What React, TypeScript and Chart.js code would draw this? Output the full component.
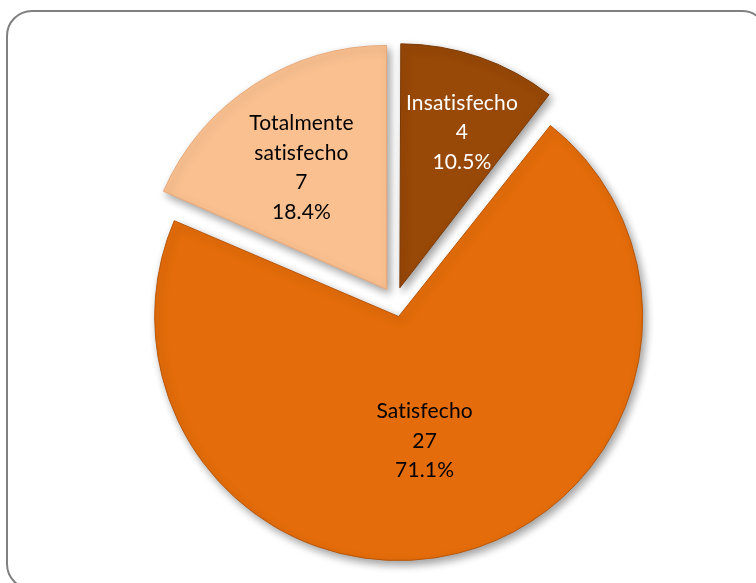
import React, { useEffect, useRef } from "react";
import { Chart, registerables } from "chart.js";

Chart.register(...registerables);

const categories = ["Insatisfecho", "Satisfecho", "Totalmente satisfecho"];
const labelLines = [["Insatisfecho"], ["Satisfecho"], ["Totalmente", "satisfecho"]];
const counts = [4, 27, 7];
const percents = ["10.5%", "71.1%", "18.4%"];
const colors = ["#984807", "#E46C0A", "#FAC090"];
const textColors = ["#FFFFFF", "#000000", "#000000"];

const PIE_RADIUS = 244;
const EXPLODE = 60; // chart.js arc offset (translation = offset / 4)
const LABEL_RATIO = [0.685, 0.52, 0.61];
const LABEL_ANGLE = [21.8, 168.2, 325];

const equalRadius = {
  id: "equalRadius",
  beforeDatasetsDraw(chart: any) {
    const meta = chart.getDatasetMeta(0);
    const base = meta.controller.outerRadius;
    meta.data.forEach((arc: any) => {
      const off = ((arc.options && arc.options.offset) || 0) / 4;
      const circ = arc.endAngle - arc.startAngle;
      const fix = 1 - Math.sin(Math.min(Math.PI, circ));
      arc.outerRadius = base - off * fix;
    });
  },
};

const shadow = {
  id: "shadow",
  beforeDatasetsDraw(chart: any) {
    const ctx = chart.ctx;
    ctx.save();
    ctx.shadowColor = "rgba(0,0,0,0.38)";
    ctx.shadowBlur = 8;
    ctx.shadowOffsetX = 3;
    ctx.shadowOffsetY = 4;
  },
  afterDatasetsDraw(chart: any) {
    chart.ctx.restore();
  },
};

const sliceLabels = {
  id: "sliceLabels",
  afterDatasetsDraw(chart: any) {
    const ctx = chart.ctx;
    const meta = chart.getDatasetMeta(0);
    const R = meta.controller.outerRadius;
    ctx.save();
    ctx.shadowColor = "transparent";
    ctx.font = "21px Lato";
    try {
      (ctx as any).letterSpacing = "0.15px";
    } catch (e) {}
    ctx.textAlign = "center";
    ctx.textBaseline = "middle";
    meta.data.forEach((arc: any, i: number) => {
      const mid = (arc.startAngle + arc.endAngle) / 2;
      const off = ((arc.options && arc.options.offset) || 0) / 4;
      const ax = arc.x + Math.cos(mid) * off;
      const ay = arc.y + Math.sin(mid) * off;
      const a = (LABEL_ANGLE[i] * Math.PI) / 180;
      const r = LABEL_RATIO[i] * R;
      const x = ax + Math.sin(a) * r;
      const y = ay - Math.cos(a) * r;
      const lines = [...labelLines[i], String(counts[i]), percents[i]];
      const lh = 29.5;
      ctx.fillStyle = textColors[i];
      lines.forEach((t, k) => {
        ctx.fillText(t, x, y + (k - (lines.length - 1) / 2) * lh);
      });
    });
    ctx.restore();
  },
};

export default function App() {
  const ref = useRef<HTMLCanvasElement | null>(null);

  useEffect(() => {
    if (!ref.current) return;
    const chart = new Chart(ref.current, {
      type: "pie",
      data: {
        labels: categories,
        datasets: [
          {
            data: counts,
            backgroundColor: colors,
            borderColor: ["#7a3a06", "#b85608", "#e8a878"],
            borderWidth: 1,
            offset: EXPLODE,
          },
        ],
      },
      options: {
        responsive: false,
        maintainAspectRatio: false,
        animation: false,
        radius: PIE_RADIUS,
        layout: { padding: { left: 34, right: 0, top: 21, bottom: 0 } },
        plugins: {
          legend: { display: false },
          tooltip: { enabled: false },
        },
        events: [],
      },
      plugins: [equalRadius, shadow, sliceLabels],
    });
    return () => chart.destroy();
  }, []);

  return (
    <div
      style={{
        position: "fixed",
        left: 0,
        top: 0,
        width: 756,
        height: 583,
        overflow: "hidden",
        background: "#ffffff",
      }}
    >
      <div
        style={{
          position: "absolute",
          left: 6,
          top: 10,
          width: 762,
          height: 580,
          border: "2px solid #808080",
          borderRadius: 26,
          boxSizing: "border-box",
        }}
      />
      <canvas
        ref={ref}
        width={756}
        height={583}
        style={{ position: "absolute", left: 0, top: 0, width: 756, height: 583 }}
      />
    </div>
  );
}
